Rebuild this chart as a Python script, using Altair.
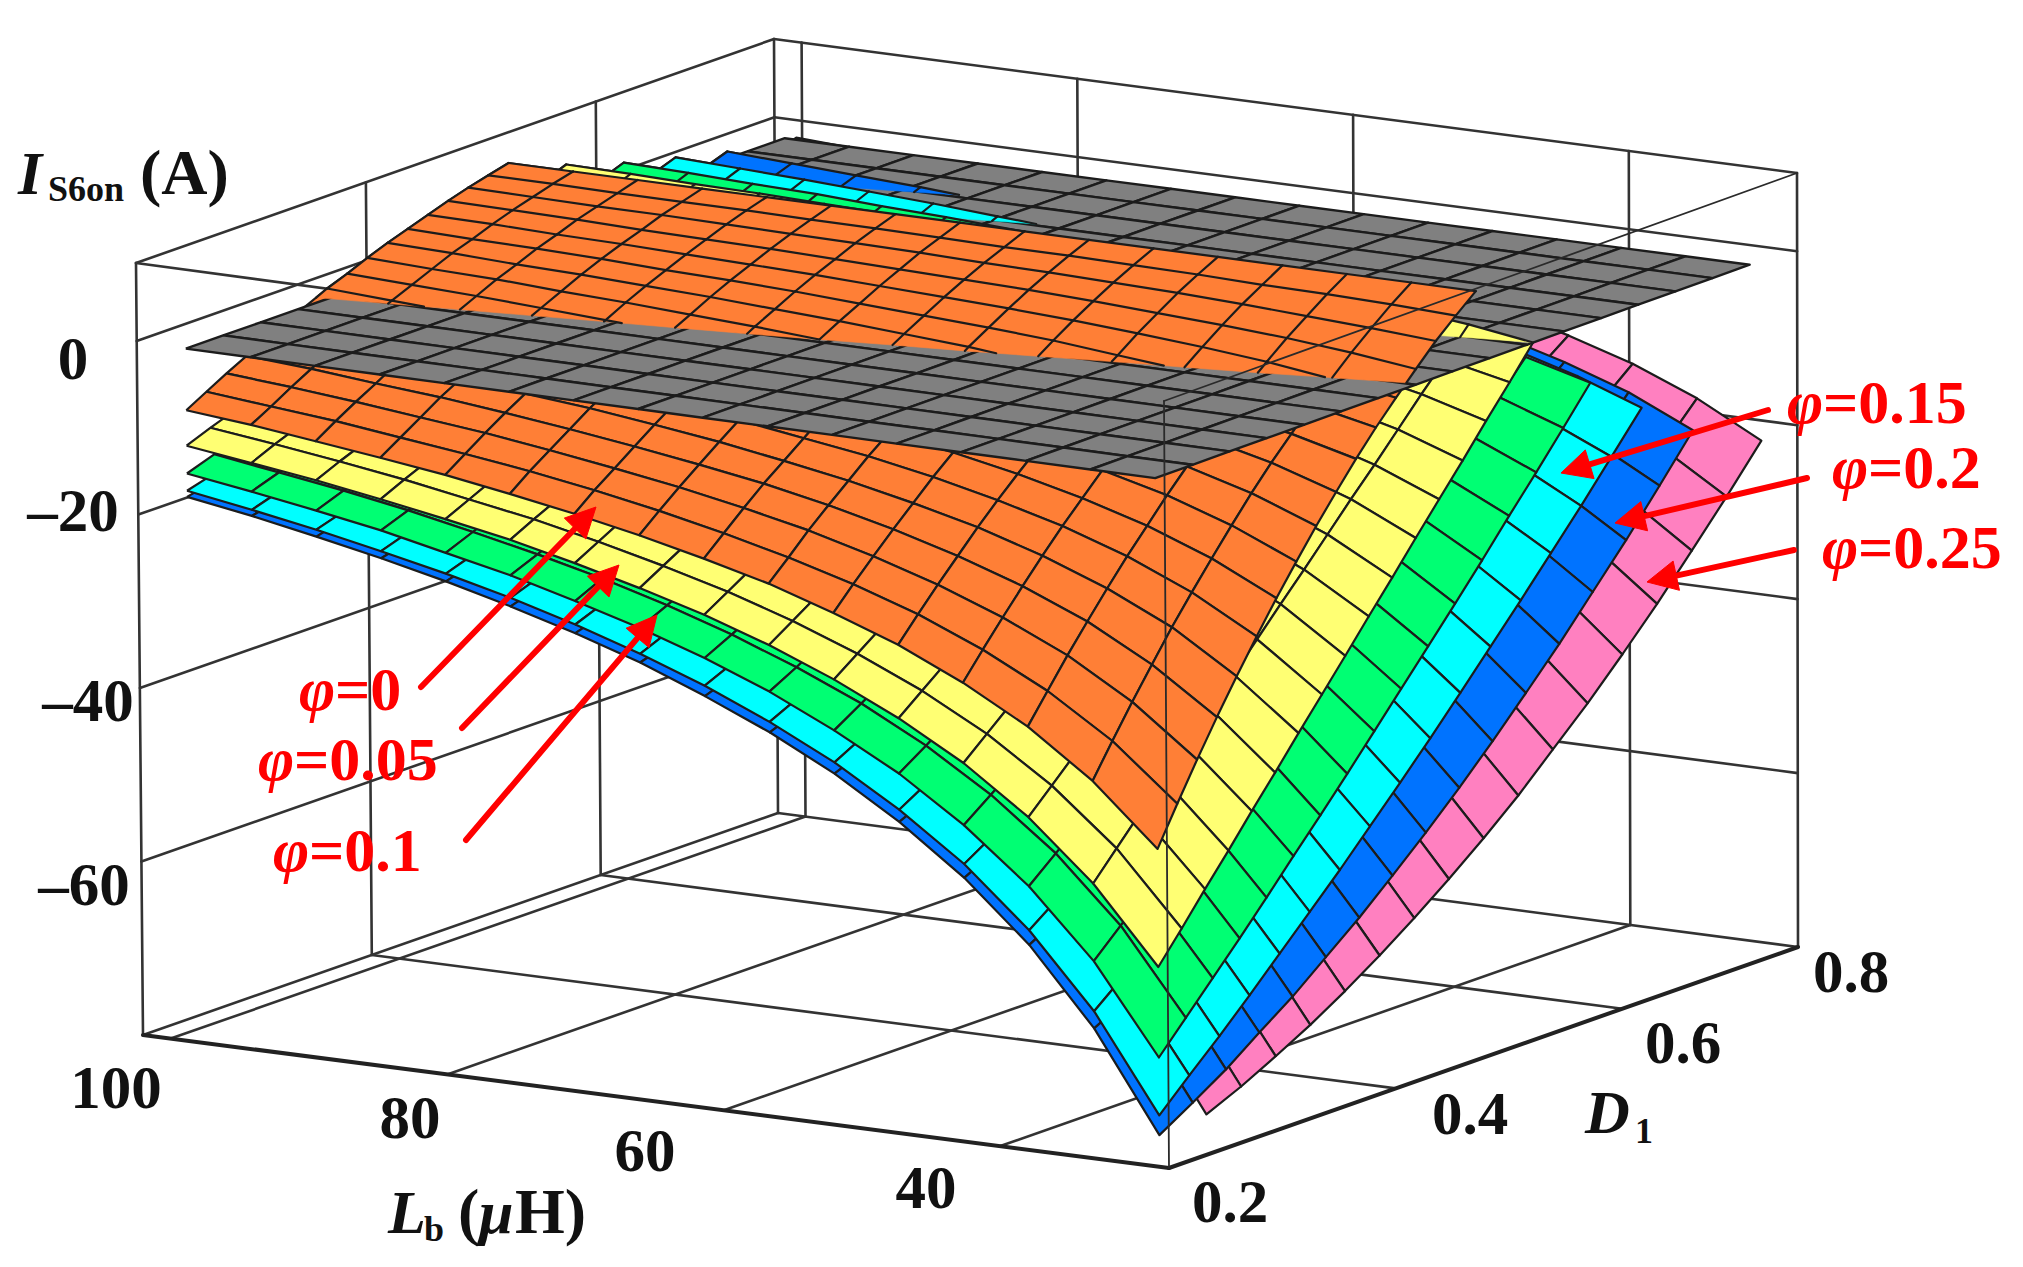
import numpy as np
import pandas as pd
import altair as alt

alt.data_transformers.disable_max_rows()

# ---------- axis ranges of the box ----------
LB_BOX = (102.0, 27.8)
D_BOX = (0.2, 0.755)
I_BOX = (-80.0, 9.0)

# camera: page position of the eight box corners (bottom / top), order: left, front, right, back
CORNERS_BOTTOM = [(143, 1035), (1169, 1168), (1798, 947), (778, 813)]
CORNERS_TOP = [(136, 263), (1164, 401), (1797, 173), (774, 39)]

# ---------- mesh ----------
lb_grid = [100, 95.33, 90.67, 86, 81.33, 76.67, 72, 67.33, 62.67, 58, 53.33, 48.67, 44, 39.33, 34.67, 30]
d_range = {"orange": (0.2185, 0.50), "yellow": (0.2185, 0.55), "green": (0.2185, 0.60),
           "cyan": (0.2185, 0.645), "blue": (0.2185, 0.69), "pink": (0.26, 0.75), "gray": (0.2185, 0.74)}

# ---------- surface values (A) ----------
orange_table = [
 [-8.4,-9.1,-10,-10.9,-11.9,-13.1,-14.4,-15.9,-17.6,-19.5,-21.9,-24.6,-28,-32.1,-37.4,-44.3],
 [-7.1,-7.8,-8.5,-9.4,-10.3,-11.3,-12.5,-13.9,-15.5,-17.3,-19.4,-21.9,-25,-28.8,-33.6,-39.9],
 [-5.8,-6.4,-7.1,-7.9,-8.7,-9.7,-10.8,-12,-13.4,-15,-17,-19.3,-22.1,-25.5,-29.9,-35.6],
 [-4.6,-5.1,-5.8,-6.4,-7.2,-8.1,-9.1,-10.2,-11.4,-12.9,-14.7,-16.8,-19.3,-22.4,-26.4,-31.5],
 [-3.4,-3.9,-4.4,-5.1,-5.8,-6.5,-7.4,-8.4,-9.6,-10.9,-12.5,-14.3,-16.6,-19.4,-22.9,-27.6],
 [-2.3,-2.7,-3.2,-3.8,-4.4,-5.1,-5.8,-6.7,-7.8,-8.9,-10.3,-12,-14,-16.5,-19.7,-23.8],
 [-1.2,-1.6,-2,-2.5,-3,-3.7,-4.3,-5.1,-6,-7.1,-8.3,-9.8,-11.6,-13.8,-16.6,-20.2],
 [-0.1,-0.5,-0.9,-1.3,-1.8,-2.3,-2.9,-3.6,-4.4,-5.3,-6.4,-7.7,-9.2,-11.1,-13.6,-16.8],
 [0.8,0.5,0.2,-0.2,-0.6,-1,-1.5,-2.1,-2.8,-3.6,-4.5,-5.6,-7,-8.6,-10.7,-13.5],
 [1.8,1.5,1.3,0.9,0.6,0.2,-0.2,-0.7,-1.3,-2,-2.8,-3.7,-4.8,-6.2,-8,-10.4],
 [2.7,2.5,2.2,2,1.7,1.4,1,0.6,0.1,-0.4,-1.1,-1.9,-2.8,-4,-5.5,-7.4],
 [3.5,3.3,3.2,3,2.7,2.5,2.2,1.8,1.4,1,0.5,-0.2,-0.9,-1.8,-3,-4.6],
 [4.3,4.2,4,3.9,3.7,3.5,3.3,3,2.7,2.4,2,1.5,0.9,0.2,-0.8,-2],
 [5.1,5,4.9,4.7,4.6,4.5,4.3,4.1,3.9,3.7,3.4,3,2.6,2.1,1.4,0.5],
 [5.8,5.7,5.6,5.6,5.5,5.4,5.3,5.2,5,4.9,4.7,4.5,4.2,3.8,3.4,2.9],
 [6.4,6.4,6.3,6.3,6.3,6.2,6.2,6.1,6,6,5.9,5.8,5.6,5.5,5.3,5],
 [7,7,7,7,7,7,7,7,7,7,7,7,7,7,7,7],
]
gray_by_row = [-1.3,-1.3,-1.3,-1.3,-1.3,-1.3,-1.3,-1.3,-1.3,-1.3,-1.3,-1.3,-1.3,-1.3,-1.3,-1.3,-1.3]

# the other surfaces are only readable along their visible bands: rows {D index: values}, columns {Lb index: values}
yellow_rows = {
 0: [-12.5,-13.5,-14.5,-15.7,-17,-18.4,-20.1,-22,-24.1,-26.6,-29.6,-33.1,-37.3,-42.6,-49.3,-58],
 1: [-11.4,-12.3,-13.3,-14.4,-15.7,-17,-18.6,-20.4,-22.4,-24.8,-27.6,-30.9,-34.9,-39.9,-46.2,-54.5],
 2: [-10.4,-11.2,-12.2,-13.2,-14.4,-15.7,-17.1,-18.8,-20.7,-23,-25.6,-28.7,-32.5,-37.2,-43.1,-50.9],
 3: [-9.3,-10.1,-11,-12,-13.1,-14.3,-15.7,-17.2,-19,-21.1,-23.6,-26.5,-30.1,-34.5,-40.1,-47.4],
 15: [3.4,3.3,3.1,2.9,2.6,2.4,2.1,1.7,1.3,0.9,0.3,-0.3,-1.1,-2,-3.3,-4.9],
 16: [4.5,4.4,4.2,4.1,3.9,3.7,3.5,3.3,3,2.7,2.3,1.9,1.3,0.6,-0.2,-1.3],
}
yellow_cols = {
 13: [-42.6,-39.9,-37.2,-34.5,-31.8,-29.1,-26.4,-23.7,-21,-18.3,-15.6,-12.9,-10.2,-7.5,-4.7,-2,0.6],
 14: [-49.3,-46.2,-43.1,-40.1,-37,-33.9,-30.9,-27.8,-24.7,-21.7,-18.6,-15.5,-12.5,-9.4,-6.3,-3.3,-0.2],
 15: [-58,-54.5,-50.9,-47.4,-43.8,-40.3,-36.7,-33.2,-29.7,-26.1,-22.6,-19,-15.5,-12,-8.4,-4.9,-1.3],
}
green_rows = {
 0: [-15.7,-16.8,-18,-19.3,-20.9,-22.5,-24.5,-26.6,-29.1,-32,-35.5,-39.5,-44.5,-50.6,-58.3,-68.5],
 1: [-14.6,-15.7,-16.8,-18.1,-19.6,-21.2,-23,-25.1,-27.5,-30.3,-33.5,-37.4,-42.1,-47.9,-55.3,-65],
 2: [-13.6,-14.6,-15.7,-16.9,-18.3,-19.8,-21.5,-23.5,-25.8,-28.4,-31.5,-35.2,-39.7,-45.2,-52.3,-61.5],
 15: [1.2,0.9,0.6,0.2,-0.1,-0.6,-1.1,-1.6,-2.3,-3,-3.9,-4.9,-6.2,-7.8,-9.8,-12.4],
 16: [2.4,2.2,1.9,1.7,1.3,1,0.6,0.2,-0.3,-0.9,-1.6,-2.5,-3.5,-4.7,-6.3,-8.3],
}
green_cols = {
 14: [-58.3,-55.3,-52.3,-49.2,-46.1,-43,-39.8,-36.6,-33.4,-30.1,-26.8,-23.4,-20.1,-16.7,-13.2,-9.8,-6.3],
 15: [-68.5,-65,-61.5,-58,-54.4,-50.7,-47.1,-43.4,-39.6,-35.8,-32,-28.2,-24.3,-20.3,-16.4,-12.4,-8.3],
}
cyan_rows = {
 0: [-17.7,-18.9,-20.2,-21.7,-23.3,-25.1,-27.2,-29.6,-32.3,-35.5,-39.2,-43.7,-49,-55.7,-64.1,-75.2],
 1: [-16.7,-17.8,-19.1,-20.5,-22.1,-23.8,-25.8,-28.1,-30.7,-33.8,-37.3,-41.6,-46.8,-53.1,-61.2,-71.8],
 2: [-15.6,-16.7,-18,-19.3,-20.8,-22.5,-24.4,-26.6,-29.1,-32,-35.5,-39.5,-44.5,-50.6,-58.3,-68.5],
 15: [-0.4,-0.8,-1.2,-1.6,-2.1,-2.7,-3.3,-4,-4.8,-5.8,-6.9,-8.2,-9.9,-11.9,-14.4,-17.7],
 16: [0.9,0.6,0.3,-0.1,-0.5,-1,-1.5,-2.1,-2.7,-3.5,-4.4,-5.5,-6.9,-8.5,-10.6,-13.3],
}
cyan_cols = {
 14: [-64.1,-61.2,-58.3,-55.3,-52.2,-49.1,-45.9,-42.7,-39.4,-36,-32.6,-29,-25.5,-21.9,-18.2,-14.4,-10.6],
 15: [-75.2,-71.8,-68.5,-65,-61.4,-57.8,-54.2,-50.4,-46.6,-42.7,-38.7,-34.6,-30.5,-26.3,-22.1,-17.7,-13.3],
}
blue_rows = {
 0: [-18.4,-19.6,-21,-22.5,-24.2,-26.1,-28.2,-30.6,-33.5,-36.7,-40.5,-45.1,-50.6,-57.4,-66.1,-77.5],
 1: [-17.5,-18.7,-20,-21.5,-23.1,-24.9,-27,-29.4,-32.1,-35.2,-38.9,-43.3,-48.6,-55.2,-64,-75.1],
 2: [-16.6,-17.7,-19,-20.4,-22,-23.7,-25.7,-28,-30.6,-33.6,-37.2,-41.4,-46.6,-52.9,-61.8,-72.6],
 15: [-1.9,-2.3,-2.8,-3.3,-3.9,-4.6,-5.3,-6.2,-7.1,-8.3,-9.6,-11.2,-13.1,-15.5,-19,-23],
 16: [-0.5,-0.9,-1.3,-1.7,-2.2,-2.8,-3.4,-4.1,-5,-5.9,-7.1,-8.4,-10,-12.1,-14.6,-18],
}
blue_cols = {
 14: [-66.1,-64,-61.8,-59.5,-56.9,-54.2,-51.4,-48.4,-45.2,-42,-38.5,-34.9,-31.1,-27.3,-23.2,-19,-14.6],
 15: [-77.5,-75.1,-72.6,-69.7,-66.9,-63.7,-60.5,-57,-53.4,-49.6,-45.6,-41.4,-37.1,-32.5,-27.9,-23,-18],
}
pink_rows = {
 15: [-3,-3.5,-4.1,-4.7,-5.3,-6.1,-6.9,-7.9,-9,-10.3,-11.8,-13.6,-15.8,-18.5,-22.4,-27],
 16: [-1.7,-2.1,-2.6,-3.1,-3.7,-4.3,-5.1,-5.9,-6.9,-8,-9.3,-10.9,-12.8,-15.1,-18.1,-22],
}
pink_cols = {
 14: [-65.7,-64.1,-62.4,-60.4,-58.3,-55.9,-53.4,-50.7,-47.9,-44.8,-41.5,-38.1,-34.5,-30.7,-26.7,-22.4,-18.1],
 15: [-77,-75.2,-73.1,-70.9,-68.4,-65.7,-62.8,-59.7,-56.4,-52.9,-49,-45.1,-40.9,-36.5,-31.8,-27,-22],
}

colors = {"orange": "#FF7F36", "yellow": "#FFFF73", "green": "#00FF73", "cyan": "#00FFFF",
          "blue": "#0073FF", "pink": "#FF80C0", "gray": "#808080"}
GRID_LINE = "#1c1c1c"
clip_levels = {"orange": -0.7, "yellow": -1.3, "green": -1.3, "cyan": -1.3, "blue": -2.0, "pink": -1.3}

# ---------- axis and annotation text ----------
lb_ticks = [100, 80, 60, 40]
d_ticks = [0.4, 0.6]
i_ticks = [0, -20, -40, -60]
tick_labels = [("100", 116, 1090), ("80", 410, 1120), ("60", 645, 1153), ("40", 926, 1190),
               ("0.2", 1230, 1204), ("0.4", 1470, 1116), ("0.6", 1683, 1045), ("0.8", 1851, 974),
               ("0", 73, 361), ("\u201320", 73, 513), ("\u201340", 88, 703), ("\u201360", 84, 887)]
arrows = [((1768, 410), (1561, 473)), ((1807, 478), (1615, 523)), ((1794, 550), (1647, 582)),
          ((421, 687), (596, 507)), ((462, 728), (619, 565)), ((466, 840), (657, 615))]
phi_labels = [("=0.15", 1787, 423), ("=0.2", 1832, 488), ("=0.25", 1822, 568),
              ("=0", 299, 710), ("=0.05", 258, 780), ("=0.1", 273, 871)]


# ---------- projection ----------
def project(lb, d, cur):
    u = (LB_BOX[0] - lb) / (LB_BOX[0] - LB_BOX[1])
    v = (d - D_BOX[0]) / (D_BOX[1] - D_BOX[0])
    w = (cur - I_BOX[0]) / (I_BOX[1] - I_BOX[0])
    wts = [(1 - u) * (1 - v), u * (1 - v), u * v, (1 - u) * v]
    b = np.sum([wt * np.array(c, float) for wt, c in zip(wts, CORNERS_BOTTOM)], axis=0)
    t = np.sum([wt * np.array(c, float) for wt, c in zip(wts, CORNERS_TOP)], axis=0)
    return b + (t - b) * w


def d_grid(name):
    return np.linspace(d_range[name][0], d_range[name][1], 17)


def surface(name, rows=None, cols=None, table=None):
    ds = d_grid(name)
    vals = {}
    if table is not None:
        for j, row in enumerate(table):
            for i, v in enumerate(row):
                vals[(i, j)] = v
    for j, row in (rows or {}).items():
        for i, v in enumerate(row):
            vals[(i, j)] = v
    for i, col in (cols or {}).items():
        for j, v in enumerate(col):
            vals[(i, j)] = v
    pts = {k: project(lb_grid[k[0]], ds[k[1]], v) for k, v in vals.items()}
    cells = []
    for j in range(15, -1, -1):
        for i in range(15):
            c = [(i, j), (i + 1, j), (i + 1, j + 1), (i, j + 1)]
            if all(k in vals for k in c):
                cells.append(c)
    return vals, pts, cells


def polys_df(polys):
    recs = []
    for n, poly in enumerate(polys):
        closed = list(poly) + [poly[0]]
        for k, p in enumerate(closed):
            recs.append({"id": n, "k": k, "x": round(float(p[0]), 1), "y": round(float(p[1]), 1)})
    return pd.DataFrame(recs)


def segs_df(segs):
    recs = []
    for n, (a, b) in enumerate(segs):
        recs.append({"id": n, "k": 0, "x": round(float(a[0]), 1), "y": round(float(a[1]), 1)})
        recs.append({"id": n, "k": 1, "x": round(float(b[0]), 1), "y": round(float(b[1]), 1)})
    return pd.DataFrame(recs)


X = alt.X("x:Q", scale=alt.Scale(domain=[8, 2015], zero=False, nice=False), axis=None)
Y = alt.Y("y:Q", scale=alt.Scale(domain=[1259, 8], zero=False, nice=False), axis=None)


def fill_layer(polys, fill, stroke, sw):
    return alt.Chart(polys_df(polys)).mark_line(fill=fill, stroke=stroke, strokeWidth=sw, strokeJoin="round").encode(
        x=X, y=Y, detail="id:N", order=alt.Order("k:Q"))


def seg_layer(segs, stroke, sw):
    return alt.Chart(segs_df(segs)).mark_line(stroke=stroke, strokeWidth=sw, strokeCap="round").encode(
        x=X, y=Y, detail="id:N", order=alt.Order("k:Q"))


def text_layer(items, size, color="#111111", style="normal", weight="bold", align="left", baseline="alphabetic"):
    df = pd.DataFrame(items, columns=["t", "x", "y"])
    return alt.Chart(df).mark_text(font="Liberation Serif", fontSize=size, color=color, fontStyle=style,
                                   fontWeight=weight, align=align, baseline=baseline).encode(x=X, y=Y, text="t:N")


def clipped(name, vals, pts, cells, level):
    polys, segs, seen = [], [], set()
    for c in cells:
        poly = []
        for a, b in zip(c, c[1:] + c[:1]):
            va, vb = vals[a], vals[b]
            if va > level:
                poly.append(pts[a])
            if (va > level) != (vb > level):
                poly.append(pts[a] + (pts[b] - pts[a]) * (level - va) / (vb - va))
            key = tuple(sorted((a, b)))
            if key in seen:
                continue
            seen.add(key)
            if va > level and vb > level:
                segs.append((pts[a], pts[b]))
            elif (va > level) != (vb > level):
                cut = pts[a] + (pts[b] - pts[a]) * (level - va) / (vb - va)
                segs.append((pts[a] if va > level else pts[b], cut))
        if len(poly) >= 3:
            polys.append(poly)
    return polys, segs


# ---------- box ----------
lb0, lb1 = LB_BOX
d0, d1 = D_BOX
i0, i1 = I_BOX
wire = []
for cur in i_ticks:
    wire.append((project(lb0, d0, cur), project(lb0, d1, cur)))
    wire.append((project(lb0, d1, cur), project(lb1, d1, cur)))
for d in d_ticks:
    wire.append((project(lb0, d, i0), project(lb0, d, i1)))
    wire.append((project(lb0, d, i0), project(lb1, d, i0)))
for lb in lb_ticks:
    wire.append((project(lb, d1, i0), project(lb, d1, i1)))
    wire.append((project(lb, d0, i0), project(lb, d1, i0)))
for a, b in [(lb0, d0), (lb0, d1), (lb1, d1)]:
    wire.append((project(a, b, i0), project(a, b, i1)))
wire += [(project(lb0, d1, i0), project(lb1, d1, i0)), (project(lb0, d0, i0), project(lb0, d1, i0)),
         (project(lb0, d0, i1), project(lb0, d1, i1)), (project(lb0, d1, i1), project(lb1, d1, i1)),
         (project(lb0, d0, i1), project(lb1, d0, i1))]
thick = [(project(lb0, d0, i0), project(lb1, d0, i0)), (project(lb1, d0, i0), project(lb1, d1, i0))]
over = [(project(lb1, d0, i0), project(lb1, d0, i1)), (project(lb1, d0, i1), project(lb1, d1, i1))]

# ---------- surfaces ----------
order = [("pink", pink_rows, pink_cols, None), ("blue", blue_rows, blue_cols, None),
         ("cyan", cyan_rows, cyan_cols, None), ("green", green_rows, green_cols, None),
         ("yellow", yellow_rows, yellow_cols, None), ("orange", None, None, orange_table)]

layers = [seg_layer(wire, "#333333", 2.6), seg_layer(thick, "#222222", 4)]
above = []
for name, r, c, t in order:
    vals, pts, cells = surface(name, r, c, t)
    polys = [[pts[k] for k in cell] for cell in cells]
    layers.append(fill_layer(polys, colors[name], GRID_LINE, 2.2))
    cp, cs = clipped(name, vals, pts, cells, clip_levels[name])
    if cp:
        above.append(fill_layer(cp, colors[name], colors[name], 0.6))
    if cs:
        above.append(seg_layer(cs, GRID_LINE, 2.2))

_, gpts, gcells = surface("gray", table=[[v] * 16 for v in gray_by_row])
layers.append(fill_layer([[gpts[k] for k in cell] for cell in gcells], colors["gray"], GRID_LINE, 2.4))
layers += above
layers.append(seg_layer(over, "#2a2a2a", 1.8))

# ---------- arrows ----------
shafts, heads = [], []
for tail, head in arrows:
    t_, h_ = np.array(tail, float), np.array(head, float)
    e = (h_ - t_) / np.linalg.norm(h_ - t_)
    n = np.array([-e[1], e[0]])
    base = h_ - e * 30
    shafts.append((t_, base))
    heads.append([h_, base + n * 15, base - n * 15])
layers.append(seg_layer(shafts, "#FF0000", 6))
layers.append(fill_layer(heads, "#FF0000", "#FF0000", 1))

# ---------- text ----------
layers.append(text_layer(tick_labels, 61, align="center", baseline="middle"))
layers.append(text_layer([("I", 18, 194), ("L", 388, 1233), ("\u03bc", 479, 1233), ("D", 1585, 1133)], 62, style="italic"))
layers.append(text_layer([("S6on", 48, 201), ("b", 424, 1241), ("1", 1635, 1143)], 36))
layers.append(text_layer([("(A)", 140, 194), ("(", 458, 1233), ("H)", 515, 1233)], 64))
layers.append(text_layer([("\u03c6", x, y) for _, x, y in phi_labels], 62, color="#FF0000", style="italic"))
layers.append(text_layer([(s, x + 36, y) for s, x, y in phi_labels], 62, color="#FF0000"))

chart = alt.layer(*layers).properties(width=2007, height=1251, padding=0, autosize=alt.AutoSizeParams(type="none")).configure_view(stroke=None)
chart.save("out.html", embed_options={"renderer": "svg", "actions": False})
